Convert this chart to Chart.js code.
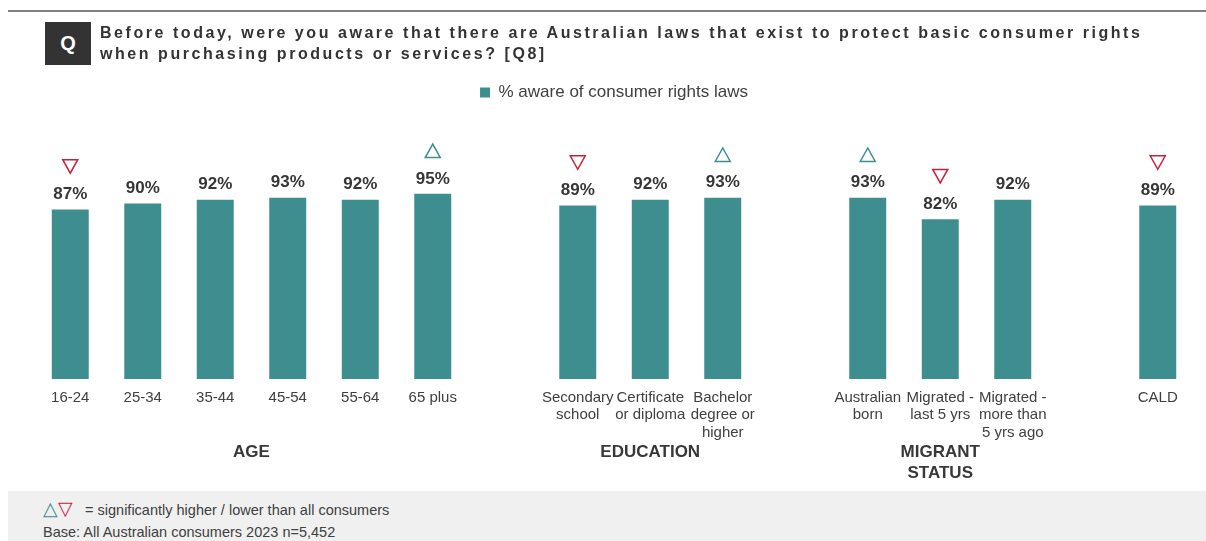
<!DOCTYPE html>
<html>
<head>
<meta charset="utf-8">
<script src="https://cdn.jsdelivr.net/npm/chart.js@4/dist/chart.umd.min.js"></script>
<style>
  html, body { margin: 0; padding: 0; background: #fff; }
  body { font-family: "Liberation Sans", Arial, sans-serif; color: #404040; }
  #wrap { position: relative; width: 1206px; height: 541px; overflow: hidden; }
  #awareness-chart { position: absolute; left: 0; top: 0; }
  .top-rule { position: absolute; left: 8px; right: 0; top: 10px; height: 2px; background: #7f7f7f; }
  .q-box {
    position: absolute; left: 45px; top: 22px; width: 46px; height: 43px;
    background: #333; color: #fff; font-weight: bold; font-size: 20px;
    line-height: 43px; text-align: center;
  }
  .question {
    position: absolute; left: 100px; top: 22px;
    font-weight: bold; font-size: 16px; line-height: 21px; letter-spacing: 2.55px;
    color: #333; white-space: nowrap;
  }
  .footer {
    position: absolute; left: 8px; right: 0; top: 491px; bottom: 0;
    background: #f0f0f0; font-size: 14.5px; color: #404040;
  }
  .footer .key { position: absolute; left: 35px; top: 6px; white-space: nowrap; }
  .footer .base { position: absolute; left: 35px; top: 33px; white-space: nowrap; }
  .tri-up { color: #3e8e8f; font-size: 19px; }
  .tri-down { color: #c8203c; font-size: 19px; margin-right: 4px; }
</style>
</head>
<body>
<div id="wrap">
  <canvas id="awareness-chart" width="1206" height="541"></canvas>
  <div class="top-rule"></div>
  <div class="q-box">Q</div>
  <div class="question">Before today, were you aware that there are Australian laws that exist to protect basic consumer rights<br>when purchasing products or services? [Q8]</div>
  <div class="footer">
    <div class="key"><span class="tri-up">△</span><span class="tri-down">▽</span>&nbsp; = significantly higher / lower than all consumers</div>
    <div class="base">Base: All Australian consumers 2023 n=5,452</div>
  </div>
</div>
<script>
const FONT = '"Liberation Sans", Arial, sans-serif';
const TEAL = '#3e8e8f';
const RED = '#c8203c';

// empty labels leave a gap between the groups
const categories = [
    '16-24', '25-34', '35-44', '45-54', '55-64', '65 plus', '',
    ['Secondary', 'school'], ['Certificate', 'or diploma'], ['Bachelor', 'degree or', 'higher'], '',
    ['Australian', 'born'], ['Migrated -', 'last 5 yrs'], ['Migrated -', 'more than', '5 yrs ago'], '',
    'CALD'
];
const awareValues = [87, 90, 92, 93, 92, 95, null, 89, 92, 93, null, 93, 82, 92, null, 89];
// significance vs all consumers: 'up' higher, 'down' lower
const sigFlags = ['down', null, null, null, null, 'up', null, 'down', null, 'up', null, 'up', 'down', null, null, 'down'];
const groupNames = ['AGE', 'EDUCATION', ['MIGRANT', 'STATUS']];
const groupRanges = [[0, 5], [7, 9], [11, 13]];

function drawTriangle(ctx, x, y, dir) {
    const w = 15, h = 13.5;
    ctx.beginPath();
    if (dir === 'up') {
        ctx.moveTo(x - w / 2, y + h / 2);
        ctx.lineTo(x + w / 2, y + h / 2);
        ctx.lineTo(x, y - h / 2);
    } else {
        ctx.moveTo(x - w / 2, y - h / 2);
        ctx.lineTo(x + w / 2, y - h / 2);
        ctx.lineTo(x, y + h / 2);
    }
    ctx.closePath();
    ctx.lineWidth = 1.5;
    ctx.strokeStyle = dir === 'up' ? TEAL : RED;
    ctx.stroke();
}

/*** 數值標籤、顯著性三角形、分組標題 ***/
const barAnnotations = {
    id: 'barAnnotations',
    afterDatasetsDraw(chart) {
        const ctx = chart.ctx;
        const meta = chart.getDatasetMeta(0);
        ctx.save();
        ctx.textAlign = 'center';
        ctx.textBaseline = 'middle';
        ctx.font = 'bold 17px ' + FONT;
        ctx.fillStyle = '#363636';
        meta.data.forEach((bar, i) => {
            const v = awareValues[i];
            if (v == null) return;
            ctx.fillText(v + '%', bar.x, bar.y - 15);
            if (sigFlags[i]) drawTriangle(ctx, bar.x, bar.y - 43, sigFlags[i]);
        });

        const xScale = chart.scales.x;
        const baseY = chart.chartArea.bottom + 73;
        ctx.fillStyle = '#383838';
        groupNames.forEach((name, g) => {
            const [a, b] = groupRanges[g];
            const cx = (xScale.getPixelForValue(a) + xScale.getPixelForValue(b)) / 2;
            [].concat(name).forEach((line, k) => ctx.fillText(line, cx, baseY + k * 21.5));
        });
        ctx.restore();
    }
};

const ctx = document.getElementById('awareness-chart').getContext('2d');
const myChart = new Chart(ctx, {
    type: 'bar',
    data: {
        labels: categories,
        datasets: [
            {
                label: '% aware of consumer rights laws',
                data: awareValues,
                backgroundColor: TEAL,
                categoryPercentage: 1,
                barPercentage: 0.51,
            }
        ]
    },
    options: {
        responsive: false,
        animation: false,
        layout: {
            padding: { left: 34, right: 12, top: 74, bottom: 82 }
        },
        plugins: {
            legend: {
                position: 'top',
                labels: {
                    boxWidth: 10,
                    boxHeight: 10,
                    padding: 10,
                    color: '#404040',
                    font: { family: FONT, size: 17 }
                }
            },
            tooltip: { enabled: false }
        },
        scales: {
            x: {
                grid: { display: false },
                border: { display: false },
                ticks: {
                    color: '#404040',
                    padding: 2,
                    maxRotation: 0,
                    autoSkip: false,
                    font: { family: FONT, size: 15, lineHeight: 1.17 }
                },
                afterFit: function(scale) {
                    scale.height = 80;
                }
            },
            y: {
                display: false,
                min: 0,
                max: 137.5
            }
        }
    },
    plugins: [barAnnotations]
});
</script>
</body>
</html>
